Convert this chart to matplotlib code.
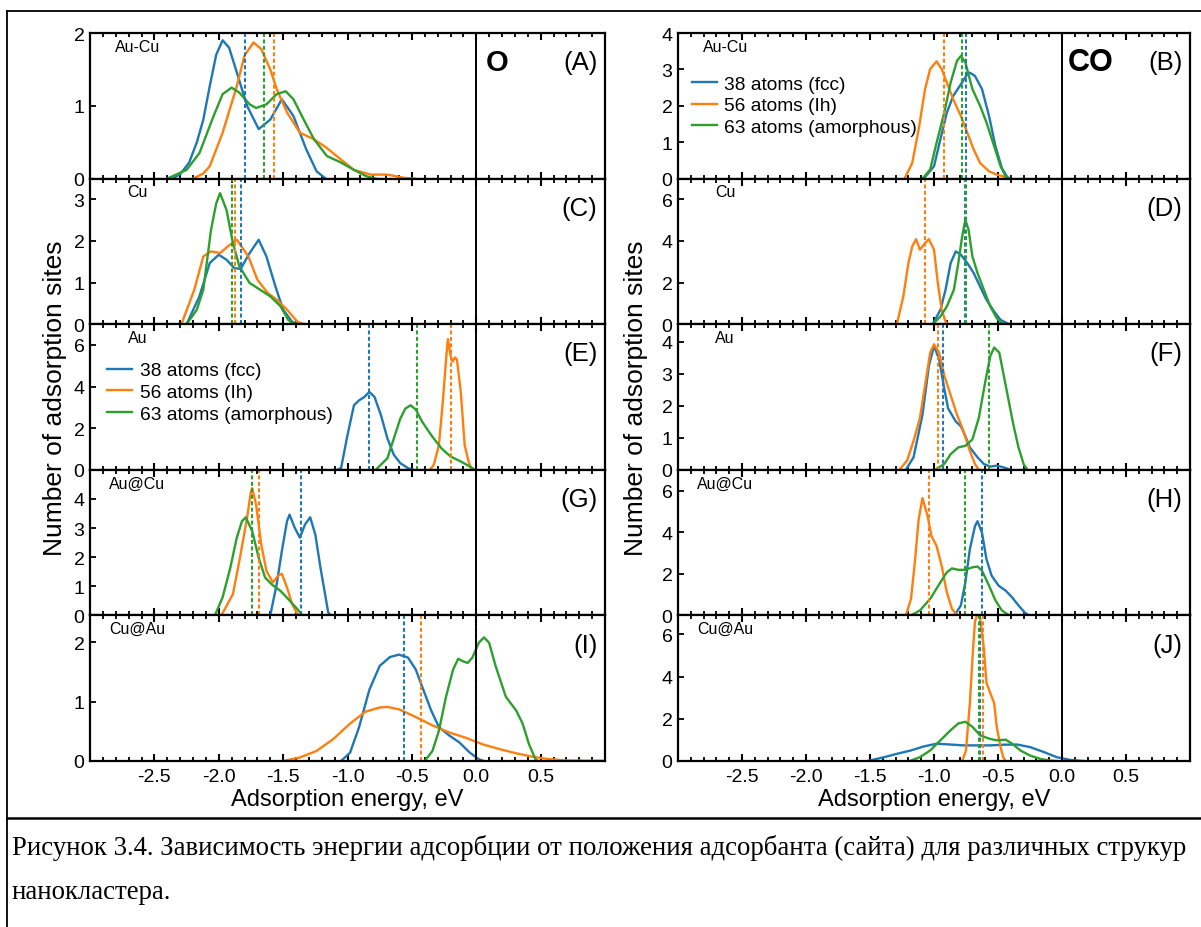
import matplotlib
matplotlib.use('Agg')
import matplotlib.pyplot as plt
from matplotlib.lines import Line2D
from matplotlib.ticker import MultipleLocator

plt.rcParams['font.family'] = ['Liberation Sans', 'DejaVu Sans']
plt.rcParams['axes.unicode_minus'] = False

#------------------------------------------------------------------
# data (energy in eV, number of sites)
# order inside each panel: 38 atoms (fcc), 56 atoms (Ih), 63 atoms
#------------------------------------------------------------------
labels = ['38 atoms (fcc)', '56 atoms (Ih)', '63 atoms (amorphous)']
colors = ['#1f77b4', '#ff7f0e', '#2ca02c']
xticks = [-2.5, -2.0, -1.5, -1.0, -0.5, 0.0, 0.5]

# (A) O, Au-Cu
a38_x = [-2.36, -2.30, -2.23, -2.17, -2.12, -2.07, -2.02, -1.97, -1.92, -1.86, -1.78, -1.69, -1.60, -1.51, -1.42, -1.32, -1.24, -1.17]
a38_y = [0, 0.06, 0.22, 0.50, 0.81, 1.27, 1.70, 1.90, 1.80, 1.46, 1.00, 0.68, 0.81, 1.09, 0.86, 0.40, 0.10, 0]
a56_x = [-2.20, -2.12, -2.07, -1.97, -1.86, -1.80, -1.73, -1.67, -1.60, -1.55, -1.47, -1.37, -1.26, -1.16, -1.05, -0.95, -0.82, -0.69, -0.56, -0.48]
a56_y = [0, 0.07, 0.17, 0.63, 1.27, 1.69, 1.87, 1.78, 1.50, 1.23, 0.91, 0.63, 0.54, 0.42, 0.26, 0.12, 0.055, 0.055, 0.01, 0]
a63_x = [-2.40, -2.25, -2.15, -2.04, -1.97, -1.90, -1.84, -1.76, -1.71, -1.63, -1.55, -1.48, -1.42, -1.34, -1.26, -1.16, -1.05, -0.95, -0.85, -0.78]
a63_y = [0, 0.12, 0.35, 0.86, 1.16, 1.25, 1.18, 1.02, 0.97, 1.02, 1.16, 1.20, 1.09, 0.81, 0.54, 0.31, 0.22, 0.12, 0.03, 0]
a_mean = [-1.80, -1.57, -1.65]

# (C) O, Cu
c38_x = [-2.25, -2.15, -2.07, -2.00, -1.94, -1.88, -1.83, -1.76, -1.69, -1.63, -1.56, -1.50, -1.43, -1.39]
c38_y = [0, 0.67, 1.47, 1.67, 1.55, 1.35, 1.33, 1.71, 2.03, 1.63, 0.91, 0.35, 0.06, 0]
c56_x = [-2.29, -2.19, -2.12, -2.06, -1.99, -1.93, -1.86, -1.77, -1.70, -1.62, -1.55, -1.47, -1.39, -1.34]
c56_y = [0, 0.83, 1.63, 1.75, 1.71, 1.87, 2.03, 1.63, 1.07, 0.75, 0.59, 0.35, 0.06, 0]
c63_x = [-2.25, -2.17, -2.12, -2.06, -2.02, -1.99, -1.94, -1.89, -1.84, -1.76, -1.68, -1.60, -1.52, -1.46, -1.41]
c63_y = [0, 0.35, 0.83, 2.27, 2.90, 3.15, 2.75, 1.95, 1.39, 0.99, 0.83, 0.67, 0.43, 0.10, 0]
c_mean = [-1.83, -1.87, -1.90]

# (E) O, Au
e38_x = [-1.08, -1.05, -1.00, -0.95, -0.91, -0.87, -0.83, -0.79, -0.74, -0.69, -0.64, -0.59, -0.53, -0.49]
e38_y = [0, 0.08, 1.67, 3.10, 3.34, 3.50, 3.74, 3.50, 2.62, 1.51, 0.72, 0.32, 0.08, 0]
e56_x = [-0.36, -0.33, -0.29, -0.26, -0.23, -0.22, -0.20, -0.185, -0.165, -0.15, -0.12, -0.09, -0.06, -0.04, -0.02]
e56_y = [0, 0.24, 1.19, 3.26, 5.64, 6.28, 5.50, 5.20, 5.40, 5.30, 3.74, 1.19, 0.40, 0.08, 0]
e63_x = [-0.78, -0.69, -0.64, -0.59, -0.55, -0.51, -0.47, -0.42, -0.35, -0.27, -0.20, -0.12, -0.05, -0.01]
e63_y = [0, 0.56, 1.51, 2.46, 2.95, 3.10, 2.90, 2.31, 1.67, 1.03, 0.64, 0.40, 0.16, 0]
e_mean = [-0.83, -0.20, -0.46]

# (G) O, Au@Cu
g38_x = [-1.60, -1.55, -1.51, -1.47, -1.45, -1.41, -1.37, -1.33, -1.29, -1.25, -1.21, -1.17, -1.15, -1.13]
g38_y = [0, 1.07, 2.21, 3.23, 3.46, 3.01, 2.67, 3.12, 3.37, 2.78, 1.64, 0.62, 0.10, 0]
g56_x = [-1.98, -1.89, -1.84, -1.78, -1.75, -1.74, -1.71, -1.67, -1.63, -1.58, -1.54, -1.51, -1.47, -1.43, -1.39, -1.37]
g56_y = [0, 0.73, 1.87, 3.35, 4.26, 4.37, 3.80, 2.44, 1.53, 1.13, 1.36, 1.43, 0.96, 0.39, 0.05, 0]
g63_x = [-2.03, -1.97, -1.91, -1.86, -1.82, -1.79, -1.74, -1.69, -1.64, -1.59, -1.52, -1.46, -1.39, -1.35]
g63_y = [0, 0.62, 1.64, 2.67, 3.23, 3.37, 2.89, 1.98, 1.30, 1.07, 0.84, 0.56, 0.22, 0]
g_mean = [-1.36, -1.69, -1.745]

# (I) O, Cu@Au
i38_x = [-1.05, -0.98, -0.91, -0.83, -0.75, -0.67, -0.60, -0.53, -0.47, -0.42, -0.35, -0.29, -0.21, -0.13, -0.05, 0.02, 0.06]
i38_y = [0, 0.14, 0.57, 1.20, 1.60, 1.75, 1.79, 1.74, 1.54, 1.25, 0.85, 0.57, 0.43, 0.31, 0.14, 0.03, 0]
i56_x = [-1.50, -1.37, -1.24, -1.11, -0.98, -0.86, -0.75, -0.69, -0.60, -0.47, -0.34, -0.21, -0.08, 0.05, 0.18, 0.31, 0.44, 0.57, 0.70, 0.85, 1.00]
i56_y = [0, 0.06, 0.17, 0.37, 0.63, 0.83, 0.90, 0.91, 0.87, 0.74, 0.60, 0.48, 0.39, 0.28, 0.20, 0.13, 0.07, 0.03, 0.01, 0.005, 0.005]
i63_x = [-0.40, -0.34, -0.29, -0.235, -0.18, -0.14, -0.106, -0.067, -0.03, 0.02, 0.06, 0.10, 0.15, 0.23, 0.31, 0.36, 0.41, 0.46, 0.48]
i63_y = [0, 0.17, 0.51, 1.08, 1.54, 1.72, 1.68, 1.65, 1.74, 1.99, 2.08, 1.99, 1.60, 1.08, 0.85, 0.63, 0.28, 0.03, 0]
i_mean = [-0.56, -0.43, 0.0]

# (B) CO, Au-Cu
b38_x = [-1.08, -1.00, -0.95, -0.90, -0.85, -0.79, -0.74, -0.72, -0.68, -0.625, -0.57, -0.52, -0.47, -0.43, -0.41]
b38_y = [0, 0.34, 1.08, 1.81, 2.27, 2.59, 2.87, 2.91, 2.82, 2.46, 1.72, 0.89, 0.29, 0.06, 0]
b56_x = [-1.23, -1.17, -1.12, -1.07, -1.03, -0.98, -0.94, -0.90, -0.85, -0.79, -0.74, -0.69, -0.64, -0.57, -0.51, -0.46, -0.43]
b56_y = [0, 0.43, 1.35, 2.46, 3.01, 3.22, 3.01, 2.64, 2.18, 1.72, 1.26, 0.80, 0.43, 0.20, 0.11, 0.06, 0]
b63_x = [-1.09, -1.03, -0.98, -0.92, -0.87, -0.82, -0.79, -0.755, -0.70, -0.64, -0.59, -0.53, -0.48, -0.44, -0.42]
b63_y = [0, 0.25, 0.98, 1.81, 2.64, 3.24, 3.37, 3.19, 2.46, 2.00, 1.54, 0.89, 0.34, 0.06, 0]
b_mean = [-0.75, -0.92, -0.78]

# (D) CO, Cu
d38_x = [-1.01, -0.95, -0.91, -0.87, -0.83, -0.79, -0.74, -0.69, -0.64, -0.59, -0.53, -0.48, -0.43, -0.41]
d38_y = [0, 0.69, 1.65, 2.94, 3.50, 3.34, 2.94, 2.46, 1.81, 1.17, 0.61, 0.21, 0.05, 0]
d56_x = [-1.29, -1.24, -1.20, -1.17, -1.14, -1.11, -1.07, -1.04, -1.00, -0.97, -0.94, -0.91, -0.89]
d56_y = [0, 1.33, 2.94, 3.74, 4.09, 3.58, 3.90, 4.09, 3.58, 1.97, 0.69, 0.13, 0]
d63_x = [-1.01, -0.95, -0.90, -0.845, -0.81, -0.78, -0.755, -0.73, -0.70, -0.66, -0.61, -0.56, -0.51, -0.47, -0.45]
d63_y = [0, 0.37, 0.85, 1.65, 2.94, 4.22, 5.02, 4.54, 3.26, 2.46, 1.65, 0.85, 0.29, 0.05, 0]
d_mean = [-0.76, -1.07, -0.75]

# (F) CO, Au
f38_x = [-1.22, -1.16, -1.09, -1.04, -1.00, -0.96, -0.92, -0.89, -0.83, -0.79, -0.76, -0.72, -0.66, -0.61, -0.56, -0.51, -0.46, -0.40]
f38_y = [0, 0.39, 1.72, 3.25, 3.87, 3.46, 2.54, 1.92, 1.51, 1.36, 1.10, 0.70, 0.39, 0.18, 0.10, 0.13, 0.08, 0]
f56_x = [-1.27, -1.21, -1.16, -1.11, -1.07, -1.03, -1.00, -0.96, -0.92, -0.87, -0.82, -0.77, -0.72, -0.68, -0.65]
f56_y = [0, 0.29, 0.90, 1.62, 2.64, 3.66, 3.92, 3.66, 2.95, 2.33, 1.72, 1.21, 0.59, 0.18, 0]
f63_x = [-0.99, -0.92, -0.87, -0.81, -0.755, -0.70, -0.65, -0.60, -0.56, -0.53, -0.49, -0.46, -0.42, -0.38, -0.34, -0.30, -0.27]
f63_y = [0, 0.18, 0.49, 0.70, 0.75, 0.95, 1.62, 2.74, 3.56, 3.82, 3.66, 3.05, 2.23, 1.41, 0.70, 0.18, 0]
f_mean = [-0.93, -0.97, -0.57]

# (H) CO, Au@Cu
h38_x = [-0.84, -0.79, -0.755, -0.72, -0.68, -0.66, -0.625, -0.59, -0.55, -0.495, -0.44, -0.39, -0.34, -0.29, -0.26]
h38_y = [0, 0.48, 1.59, 3.18, 4.29, 4.53, 3.97, 2.70, 1.91, 1.43, 1.19, 0.87, 0.48, 0.13, 0]
h56_x = [-1.22, -1.18, -1.15, -1.12, -1.09, -1.05, -1.02, -0.98, -0.94, -0.90, -0.86, -0.83, -0.81]
h56_y = [0, 0.79, 2.54, 4.61, 5.64, 4.77, 3.82, 3.34, 2.38, 1.11, 0.32, 0.08, 0]
h63_x = [-1.18, -1.11, -1.03, -0.95, -0.90, -0.86, -0.81, -0.755, -0.70, -0.66, -0.625, -0.57, -0.52, -0.47, -0.42, -0.40]
h63_y = [0, 0.24, 0.79, 1.59, 2.07, 2.26, 2.19, 2.19, 2.31, 2.35, 2.15, 1.43, 0.72, 0.24, 0.03, 0]
h_mean = [-0.625, -1.04, -0.76]

# (J) CO, Cu@Au
j38_x = [-1.52, -1.39, -1.29, -1.18, -1.08, -0.98, -0.87, -0.77, -0.66, -0.56, -0.46, -0.35, -0.25, -0.14, -0.04, 0.065, 0.17]
j38_y = [0, 0.18, 0.34, 0.50, 0.69, 0.82, 0.78, 0.74, 0.74, 0.74, 0.77, 0.78, 0.66, 0.42, 0.18, 0.05, 0]
j56_x = [-0.78, -0.75, -0.72, -0.695, -0.68, -0.66, -0.64, -0.61, -0.59, -0.56, -0.53, -0.51, -0.48, -0.46, -0.44]
j56_y = [0, 0.50, 2.74, 5.30, 6.60, 7.00, 6.80, 5.30, 3.70, 3.22, 2.74, 1.62, 0.66, 0.18, 0]
j63_x = [-1.19, -1.11, -1.03, -0.95, -0.87, -0.81, -0.755, -0.70, -0.64, -0.57, -0.51, -0.44, -0.39, -0.325, -0.25, -0.17, -0.09, -0.04]
j63_y = [0, 0.18, 0.50, 0.98, 1.46, 1.78, 1.86, 1.62, 1.22, 1.06, 0.98, 1.01, 0.82, 0.50, 0.26, 0.10, 0.02, 0]
j_mean = [-0.64, -0.62, -0.65]

caption1 = ('Рисунок 3.4. Зависимость энергии адсорбции от положения адсорбанта '
            '(сайта) для различных струкур')
caption2 = 'нанокластера.'

#------------------------------------------------------------------
# panels: (curves, means, ymax, yticks, cluster tag, letter)
#------------------------------------------------------------------
left_col = [
    ([(a38_x, a38_y), (a56_x, a56_y), (a63_x, a63_y)], a_mean, 2.0, [0, 1, 2], 'Au-Cu', '(A)'),
    ([(c38_x, c38_y), (c56_x, c56_y), (c63_x, c63_y)], c_mean, 3.5, [0, 1, 2, 3], 'Cu', '(C)'),
    ([(e38_x, e38_y), (e56_x, e56_y), (e63_x, e63_y)], e_mean, 7.0, [0, 2, 4, 6], 'Au', '(E)'),
    ([(g38_x, g38_y), (g56_x, g56_y), (g63_x, g63_y)], g_mean, 5.0, [0, 1, 2, 3, 4], 'Au@Cu', '(G)'),
    ([(i38_x, i38_y), (i56_x, i56_y), (i63_x, i63_y)], i_mean, 2.45, [0, 1, 2], 'Cu@Au', '(I)'),
]
right_col = [
    ([(b38_x, b38_y), (b56_x, b56_y), (b63_x, b63_y)], b_mean, 4.0, [0, 1, 2, 3, 4], 'Au-Cu', '(B)'),
    ([(d38_x, d38_y), (d56_x, d56_y), (d63_x, d63_y)], d_mean, 7.0, [0, 2, 4, 6], 'Cu', '(D)'),
    ([(f38_x, f38_y), (f56_x, f56_y), (f63_x, f63_y)], f_mean, 4.55, [0, 1, 2, 3, 4], 'Au', '(F)'),
    ([(h38_x, h38_y), (h56_x, h56_y), (h63_x, h63_y)], h_mean, 7.0, [0, 2, 4, 6], 'Au@Cu', '(H)'),
    ([(j38_x, j38_y), (j56_x, j56_y), (j63_x, j63_y)], j_mean, 6.9, [0, 2, 4, 6], 'Cu@Au', '(J)'),
]

W, H = 1201, 928
fig = plt.figure(figsize=(W / 100, H / 100), dpi=100)

def draw_panel(ax, curves, means, ymax, yticks, tag, letter, bottom):
    for (x, y), c, lab in zip(curves, colors, labels):
        ax.plot(x, y, color=c, lw=1.7, label=lab, solid_joinstyle='round')
    for m, c in zip(means, colors):
        ax.axvline(m, color=c, lw=1.5, ls=(0, (1.9, 1.2)))
    ax.axvline(0.0, color='black', lw=1.4)
    ax.set_xlim(-3.0, 1.0)
    ax.set_ylim(0, ymax)
    ax.set_xticks(xticks)
    ax.xaxis.set_minor_locator(MultipleLocator(0.1))
    ax.set_yticks(yticks)
    ax.tick_params(axis='x', which='both', direction='in', top=True, bottom=True,
                   labelbottom=bottom, labelsize=14, pad=5)
    ax.tick_params(axis='x', which='major', length=5, width=1.5)
    ax.tick_params(axis='x', which='minor', length=3, width=1.3)
    ax.tick_params(axis='y', direction='in', length=4, width=1.3, labelsize=14, pad=4)
    for s in ax.spines.values():
        s.set_linewidth(1.6)
    ax.text(0.092, 0.91, tag, transform=ax.transAxes, ha='center', va='center', fontsize=11.5)
    ax.text(0.985, 0.80, letter, transform=ax.transAxes, ha='right', va='center', fontsize=18.5)

# axes geometry in pixels
top, bottom = 34, 762
ph = (bottom - top) / 5
cols = [(90, 605, left_col), (678, 1190, right_col)]
axes = {}
for x0, x1, panels in cols:
    for k, p in enumerate(panels):
        y_top = top + k * ph
        ax = fig.add_axes([x0 / W, 1 - (y_top + ph) / H, (x1 - x0) / W, ph / H])
        draw_panel(ax, *p, bottom=(k == 4))
        axes[p[5]] = ax
    fig.text((x0 + x1) / 2 / W, 1 - 800 / H, 'Adsorption energy, eV',
             ha='center', va='center', fontsize=17)

fig.text(55 / W, 1 - 398 / H, 'Number of adsorption sites', rotation=90,
         ha='center', va='center', fontsize=19)
fig.text(636 / W, 1 - 398 / H, 'Number of adsorption sites', rotation=90,
         ha='center', va='center', fontsize=19)

axes['(A)'].text(0.79, 0.80, 'O', transform=axes['(A)'].transAxes, ha='center',
                 va='center', fontsize=21, fontweight='bold')
axes['(B)'].text(0.805, 0.80, 'CO', transform=axes['(B)'].transAxes, ha='center',
                 va='center', fontsize=22, fontweight='bold')

for key, anchor in [('(E)', (0.033, 0.74)), ('(B)', (0.027, 0.71))]:
    axes[key].legend(loc='upper left', bbox_to_anchor=anchor, frameon=False, fontsize=13.8,
                     handlelength=1.3, handletextpad=0.4, labelspacing=0.22,
                     borderaxespad=0, borderpad=0)

# frame of the figure/caption table
lx = 7 / W
fig.add_artist(Line2D([lx, 1], [1 - 12 / H, 1 - 12 / H], color='black', lw=1.3))
fig.add_artist(Line2D([lx, lx], [0, 1 - 12 / H], color='black', lw=1.3))
fig.add_artist(Line2D([lx, 1], [1 - 819 / H, 1 - 819 / H], color='black', lw=1.8))

fig.text(12 / W, 1 - 848 / H, caption1, ha='left', va='center', fontsize=19.3,
         family=['Liberation Serif', 'DejaVu Serif'])
fig.text(12 / W, 1 - 893 / H, caption2, ha='left', va='center', fontsize=19.3,
         family=['Liberation Serif', 'DejaVu Serif'])

fig.savefig('out.png', dpi=100)
